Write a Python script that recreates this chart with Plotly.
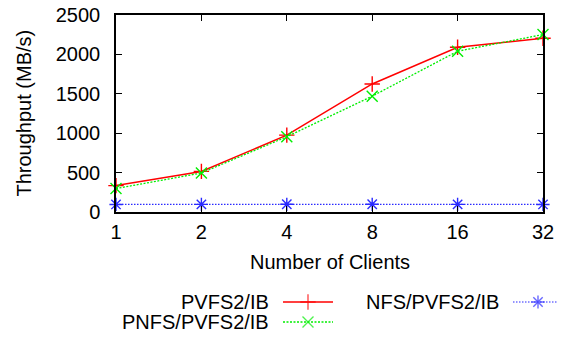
import plotly.graph_objects as go

clients = [1, 2, 4, 8, 16, 32]
pvfs2_ib = [335, 515, 975, 1625, 2090, 2205]
pnfs_pvfs2_ib = [297, 495, 955, 1470, 2040, 2252]
nfs_pvfs2_ib = [96, 97, 98, 98, 97, 96]
y_ticks = [0, 500, 1000, 1500, 2000, 2500]

# page body has an 8px default margin; build the figure in page coordinates minus 8
OFF = 8
W, H = 566 - 2 * OFF, 337 - 2 * OFF
L, R, T, B = 116 - OFF, 543 - OFF, 15 - OFF, 212 - OFF
FONT = dict(family="Liberation Sans, Arial, sans-serif", size=20, color="black")

series = [
    ("PVFS2/IB", pvfs2_ib, "#ff0000", "solid", "cross-thin-open", 1.5),
    ("PNFS/PVFS2/IB", pnfs_pvfs2_ib, "#00ee00", "2px,1.5px", "x-thin-open", 1.3),
    ("NFS/PVFS2/IB", nfs_pvfs2_ib, "#2a2aff", "1.5px,1.5px", "asterisk-open", 1.2),
]

fig = go.Figure()
for name, vals, col, dash, sym, lw in series:
    fig.add_trace(go.Scatter(
        x=clients, y=vals, name=name, mode="lines+markers",
        line=dict(color=col, width=lw, dash=dash),
        marker=dict(symbol=sym, size=11, line=dict(color=col, width=1.4)),
        cliponaxis=False, showlegend=False, xaxis="x", yaxis="y",
    ))

# manual gnuplot-style legend (text then sample) on a pixel overlay axis
leg_pos = [(270, 302, 283, 333), (270, 322, 283, 333), (500, 302, 513, 566)]
for (name, vals, col, dash, sym, lw), (tx, ty, x0, x1) in zip(series, leg_pos):
    tx, ty, x0, x1 = tx - OFF, ty - OFF, x0 - OFF, x1 - OFF
    xm = x0 + 25
    fig.add_trace(go.Scatter(
        x=[x0, xm, x1], y=[ty, ty, ty], mode="lines+markers",
        line=dict(color=col, width=lw, dash=dash),
        marker=dict(symbol=sym, size=[0, 11, 0], line=dict(color=col, width=1.4)),
        cliponaxis=False, showlegend=False, hoverinfo="skip",
        xaxis="x2", yaxis="y2",
    ))
    fig.add_annotation(x=tx / W, y=1 - ty / H, xref="paper", yref="paper",
                       text=name, showarrow=False, xanchor="right", yanchor="middle",
                       borderpad=0, font=FONT)

# axis titles
fig.add_annotation(x=(23 - OFF) / W, y=1 - (113.5 - OFF) / H, xref="paper", yref="paper",
                   text="Throughput (MB/s)", textangle=-90, showarrow=False,
                   xanchor="center", yanchor="middle", font=FONT)
fig.add_annotation(x=(329.5 - OFF) / W, y=1 - (261.5 - OFF) / H, xref="paper", yref="paper",
                   text="Number of Clients", showarrow=False,
                   xanchor="center", yanchor="middle", font=FONT)

axis_common = dict(showline=True, linecolor="black", linewidth=1.5, mirror="allticks",
                   ticks="inside", ticklen=6, tickcolor="black", tickwidth=1,
                   showgrid=False, zeroline=False, tickfont=FONT, automargin=False,
                   ticklabeloverflow="allow")

fig.update_layout(
    width=W, height=H,
    margin=dict(l=0, r=0, t=0, b=0),
    paper_bgcolor="white", plot_bgcolor="rgba(0,0,0,0)",
    font=FONT,
    xaxis=dict(domain=[L / W, R / W], anchor="y", type="log",
               range=[0, 1.50515], tickvals=clients, ticktext=[str(c) for c in clients],
               ticklabelstandoff=1, **axis_common),
    yaxis=dict(domain=[1 - B / H, 1 - T / H], anchor="x", range=[0, 2500],
               tickvals=y_ticks, ticklabelstandoff=10, **axis_common),
    xaxis2=dict(domain=[0, 1], anchor="y2", range=[0, W], visible=False, fixedrange=True),
    yaxis2=dict(domain=[0, 1], anchor="x2", range=[H, 0], visible=False, fixedrange=True),
    showlegend=False,
)

fig.write_html("out.html")
